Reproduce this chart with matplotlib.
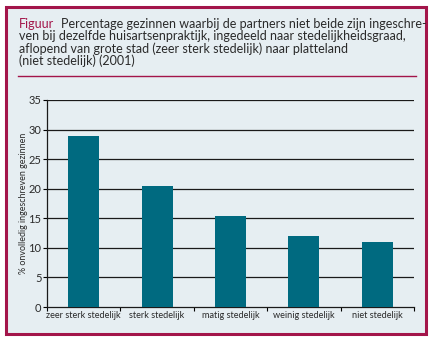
import matplotlib.pyplot as plt
from matplotlib.patches import Rectangle
from matplotlib.lines import Line2D

categories = ["zeer sterk stedelijk", "sterk stedelijk", "matig stedelijk",
              "weinig stedelijk", "niet stedelijk"]
values = [28.9, 20.5, 15.4, 12.0, 11.0]
yticks = [0, 5, 10, 15, 20, 25, 30, 35]

W, H = 433, 351
bg = "#e6eef2"
crimson = "#a3154a"
bar_color = "#006a80"
text_color = "#2a2a2a"

plt.rcParams['font.family'] = ['Lato', 'DejaVu Sans']

fig = plt.figure(figsize=(W / 100, H / 100), dpi=100)
fig.patch.set_facecolor("white")

# framed panel
fig.patches.append(Rectangle((6 / W, 1 - 334 / H), 420 / W, 327 / H,
                             transform=fig.transFigure, facecolor=bg,
                             edgecolor=crimson, linewidth=2.2, zorder=-5))
fig.lines.append(Line2D([18 / W, 416 / W], [1 - 76 / H] * 2,
                        transform=fig.transFigure, color=crimson, lw=1.0,
                        zorder=-4))

# caption
x0 = 19 / W
fs = 9.0
fig.text(x0, 1 - 28 / H, "Figuur", color=crimson, fontsize=fs, va="baseline")
fig.text(x0 + 42 / W, 1 - 28 / H,
         "Percentage gezinnen waarbij de partners niet beide zijn ingeschre-",
         color=text_color, fontsize=fs, va="baseline")
caption = ["ven bij dezelfde huisartsenpraktijk, ingedeeld naar stedelijkheidsgraad,",
           "aflopend van grote stad (zeer sterk stedelijk) naar platteland",
           "(niet stedelijk) (2001)"]
for i, line in enumerate(caption):
    fig.text(x0, 1 - (40.5 + 12.3 * i) / H, line, color=text_color,
             fontsize=fs, va="baseline")

ax = fig.add_axes([47 / W, 1 - 307 / H, 367 / W, 207 / H])
ax.set_facecolor("none")
ax.bar(range(len(categories)), values, width=0.42, color=bar_color, zorder=3)
ax.set_xlim(-0.5, len(categories) - 0.5)
ax.set_ylim(0, 35)
ax.set_yticks(yticks)
ax.set_yticklabels([str(t) for t in yticks], fontsize=8, color=text_color)
for t in yticks[1:]:
    ax.axhline(t, color="#1a1a1a", lw=0.9, zorder=1)

ax.set_xticks([i - 0.5 for i in range(len(categories) + 1)])
ax.set_xticklabels([])
ax.set_xticks(range(len(categories)), minor=True)
ax.set_xticklabels(categories, minor=True, fontsize=6.6, color=text_color)
ax.tick_params(axis="x", which="minor", length=0, pad=3)
ax.tick_params(axis="x", which="major", length=3, width=0.8, direction="out")
ax.tick_params(axis="y", length=3, width=0.8, pad=1)

for s in ["top", "right"]:
    ax.spines[s].set_visible(False)
for s in ["left", "bottom"]:
    ax.spines[s].set_linewidth(0.9)
    ax.spines[s].set_color("#1a1a1a")

ax.set_ylabel("% onvolledig ingeschreven gezinnen", fontsize=6.4,
              color=text_color)
ax.yaxis.set_label_coords(-0.053, 0.5)

fig.savefig("out.png", dpi=100, facecolor=fig.get_facecolor())
